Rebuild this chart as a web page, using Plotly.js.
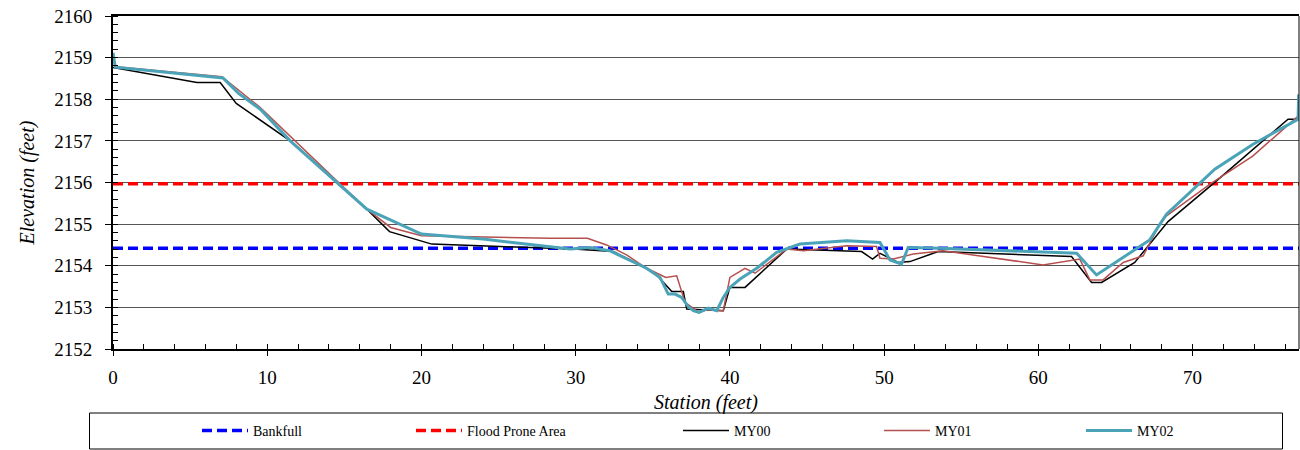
<!DOCTYPE html>
<html>
<head>
<meta charset="utf-8">
<script src="https://cdn.plot.ly/plotly-3.0.1.min.js"></script>
<style>
  html, body { margin: 0; padding: 0; background: #fff; }
  #chart { width: 1300px; height: 450px; }
  #chart text, #chart tspan { font-family: 'Liberation Serif' !important; }
</style>
</head>
<body>
<div id="chart"></div>
<script>
// ---- Data ----
const xRange = [0, 76.9];
const bankfullElev = 2154.42;
const floodProneElev = 2155.97;

const stationMY00 = [0, 5.44, 6.95, 7.99, 11.49, 16.46, 17.93, 20.67, 25.1, 29.85, 32.44, 34.17, 35.25, 36.23, 36.98, 37.2, 39.57, 40.0, 40.98, 43.68, 48.54, 49.25, 49.73, 50.91, 51.67, 53.5, 62.15, 63.45, 64.1, 66.25, 68.41, 71.55, 76.19, 76.9];
const elevMY00 = [2158.76, 2158.40, 2158.40, 2157.90, 2157.0, 2155.36, 2154.82, 2154.52, 2154.46, 2154.40, 2154.34, 2154.02, 2153.78, 2153.38, 2153.38, 2152.96, 2152.92, 2153.48, 2153.48, 2154.40, 2154.34, 2154.16, 2154.30, 2154.08, 2154.10, 2154.34, 2154.22, 2153.60, 2153.60, 2154.08, 2155.06, 2156.04, 2157.52, 2157.52];

const stationMY01 = [0, 0.2, 7.06, 9.55, 14.73, 16.46, 18.0, 20.0, 28.34, 30.76, 32.0, 33.3, 34.6, 35.84, 36.55, 37.09, 38.0, 38.5, 39.57, 40.0, 40.98, 41.63, 43.68, 44.76, 47.57, 49.51, 49.73, 50.59, 51.89, 53.83, 60.3, 62.69, 63.34, 64.2, 65.5, 66.8, 67.92, 68.31, 71.2, 73.92, 76.73, 76.9];
const elevMY01 = [2158.95, 2158.78, 2158.54, 2157.80, 2155.96, 2155.36, 2154.92, 2154.72, 2154.66, 2154.66, 2154.50, 2154.26, 2153.94, 2153.72, 2153.76, 2153.12, 2152.88, 2152.94, 2152.92, 2153.72, 2153.94, 2153.82, 2154.40, 2154.36, 2154.48, 2154.46, 2154.18, 2154.16, 2154.28, 2154.36, 2154.02, 2154.16, 2153.66, 2153.66, 2154.08, 2154.24, 2155.04, 2155.20, 2155.98, 2156.64, 2157.56, 2157.60];

const stationMY02 = [0, 0.15, 7.13, 8.14, 9.55, 11.49, 16.46, 20.0, 24.0, 29.64, 30.93, 32.2, 34.6, 35.47, 36.0, 36.44, 36.87, 37.3, 37.63, 38.0, 38.6, 39.15, 39.57, 40.0, 40.66, 41.74, 43.03, 44.54, 47.57, 49.73, 50.38, 51.13, 51.56, 53.6, 62.48, 63.77, 67.22, 68.31, 71.44, 73.92, 76.84, 76.88];
const elevMY02 = [2159.12, 2158.77, 2158.51, 2158.14, 2157.76, 2157.0, 2155.36, 2154.76, 2154.64, 2154.40, 2154.44, 2154.36, 2153.94, 2153.72, 2153.32, 2153.32, 2153.24, 2153.02, 2152.92, 2152.88, 2152.98, 2152.92, 2153.24, 2153.48, 2153.68, 2153.94, 2154.32, 2154.52, 2154.60, 2154.56, 2154.14, 2154.04, 2154.44, 2154.42, 2154.30, 2153.78, 2154.62, 2155.24, 2156.32, 2156.92, 2157.52, 2158.12];

const seriesNames = ['Bankfull', 'Flood Prone Area', 'MY00', 'MY01', 'MY02'];

// ---- Layout helpers (pixels -> paper) ----
const M = {l: 113, r: 1, t: 16, b: 101};
const W = 1300, H = 450;
const pw = W - M.l - M.r, ph = H - M.t - M.b;
const px2x = p => (p - M.l) / pw;
const py2y = p => (H - M.b - p) / ph;

const FONT = 'Liberation Serif';

const traces = [
  {x: xRange, y: [bankfullElev, bankfullElev], name: seriesNames[0], mode: 'lines',
   line: {color: '#0000FF', width: 3.5, dash: '10px,5px'}, legend: 'legend'},
  {x: xRange, y: [floodProneElev, floodProneElev], name: seriesNames[1], mode: 'lines',
   line: {color: '#FF0000', width: 3.5, dash: '10px,5px'}, legend: 'legend2'},
  {x: stationMY00, y: elevMY00, name: seriesNames[2], mode: 'lines',
   line: {color: '#000000', width: 1.5}, legend: 'legend3'},
  {x: stationMY01, y: elevMY01, name: seriesNames[3], mode: 'lines',
   line: {color: '#B5504F', width: 1.5}, legend: 'legend4'},
  {x: stationMY02, y: elevMY02, name: seriesNames[4], mode: 'lines',
   line: {color: '#4BA3B8', width: 3}, legend: 'legend5'}
];

const legendSymbolStarts = [203, 417, 684, 885, 1087];
const legendY = py2y(431);
function mkLegend(px) {
  return {
    x: px2x(px - 6), y: legendY, xanchor: 'left', yanchor: 'middle',
    orientation: 'h', bgcolor: 'rgba(0,0,0,0)', borderwidth: 0,
    font: {family: FONT, size: 14, color: '#000'}, itemwidth: 46,
    tracegroupgap: 0
  };
}

const layout = {
  width: W, height: H,
  margin: M,
  font: {family: FONT, size: 14, color: '#000'},
  paper_bgcolor: '#fff', plot_bgcolor: '#fff',
  showlegend: true,
  legend: mkLegend(legendSymbolStarts[0]),
  legend2: mkLegend(legendSymbolStarts[1]),
  legend3: mkLegend(legendSymbolStarts[2]),
  legend4: mkLegend(legendSymbolStarts[3]),
  legend5: mkLegend(legendSymbolStarts[4]),
  xaxis: {
    range: xRange, autorange: false,
    tickmode: 'linear', tick0: 0, dtick: 10,
    ticks: 'outside', ticklen: 5, tickwidth: 1, tickcolor: '#000',
    minor: {dtick: 2, ticks: 'inside', ticklen: 5, tickwidth: 1, tickcolor: '#000', showgrid: false},
    showline: true, linecolor: '#000', linewidth: 2, mirror: true,
    showgrid: false, zeroline: false,
    tickfont: {family: FONT, size: 19, color: '#000'},
    ticklabelstandoff: 5,
    title: {text: '<i>Station (feet)</i>', font: {family: FONT, size: 20, color: '#000'}, standoff: 8}
  },
  yaxis: {
    range: [2152, 2160], autorange: false,
    tickmode: 'linear', tick0: 2152, dtick: 1,
    ticks: 'outside', ticklen: 6, tickwidth: 1, tickcolor: '#000',
    minor: {dtick: 0.2, ticks: 'inside', ticklen: 5, tickwidth: 1, tickcolor: '#000', showgrid: false},
    showline: true, linecolor: '#000', linewidth: 2,
    showgrid: true, gridcolor: '#555', gridwidth: 1, zeroline: false,
    tickfont: {family: FONT, size: 19, color: '#000'},
    ticklabelstandoff: 9,
    title: {text: '<i>Elevation (feet)</i>', font: {family: FONT, size: 20, color: '#000'}, standoff: 14}
  },
  shapes: [
    {type: 'line', xref: 'paper', yref: 'paper', x0: 1, x1: 1, y0: 0, y1: 1,
     line: {color: '#000', width: 1}},
    {type: 'rect', xref: 'paper', yref: 'paper',
     x0: px2x(89.5), x1: px2x(1282.5), y0: py2y(449), y1: py2y(413),
     line: {color: '#000', width: 1}, fillcolor: 'rgba(0,0,0,0)'}
  ]
};

Plotly.newPlot('chart', traces, layout, {displayModeBar: false, staticPlot: true}).then(function (gd) {
  gd.querySelectorAll('text, tspan').forEach(function (el) {
    el.style.setProperty('font-family', FONT, 'important');
    el.setAttribute('font-family', FONT);
  });
});
</script>
</body>
</html>
